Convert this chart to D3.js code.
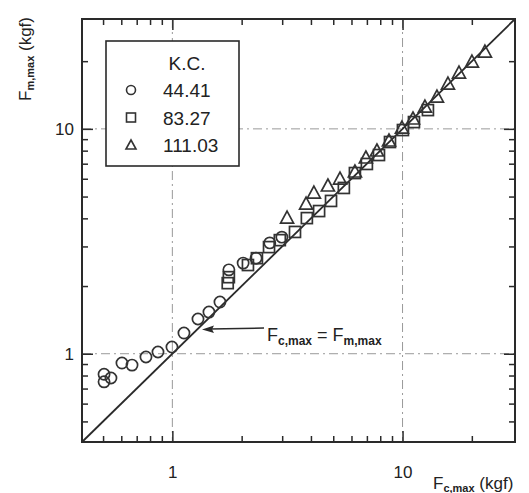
<!DOCTYPE html>
<html><head><meta charset="utf-8">
<script src="https://cdn.jsdelivr.net/npm/d3@7"></script>
<style>
html,body{margin:0;padding:0;background:#fff;}
svg text{font-family:"Liberation Sans",Arial,Helvetica,sans-serif;fill:#222;}
</style></head><body>
<svg id="chart" width="529" height="493"></svg>
<script>
// ---- data ----
const seriesNames = ["44.41", "83.27", "111.03"];
const legendTitle = "K.C.";
const circX = [0.505, 0.505, 0.541, 0.604, 0.668, 0.768, 0.866, 0.996, 1.123, 1.292, 1.442, 1.61, 1.76, 2.03, 2.31, 2.65, 2.99];
const circY = [0.81, 0.75, 0.78, 0.909, 0.89, 0.967, 1.018, 1.071, 1.236, 1.427, 1.532, 1.698, 2.36, 2.53, 2.66, 3.11, 3.30];
const sqX = [1.74, 1.76, 2.13, 2.33, 2.63, 2.93, 3.41, 3.84, 4.34, 4.89, 5.56, 6.21, 7.00, 7.90, 8.82, 10.04, 11.21, 12.89];
const sqY = [2.06, 2.19, 2.48, 2.66, 2.98, 3.20, 3.48, 4.01, 4.31, 4.78, 5.46, 6.36, 6.98, 7.65, 8.74, 9.88, 10.72, 12.12];
const triX = [3.15, 3.81, 4.12, 4.74, 5.35, 6.21, 6.93, 7.74, 8.73, 9.94, 11.10, 12.51, 14.11, 15.75, 17.59, 20.02, 22.80];
const triY = [4.01, 4.63, 5.18, 5.57, 5.98, 6.43, 7.42, 7.97, 8.83, 10.08, 11.06, 12.50, 13.85, 15.82, 17.71, 19.82, 21.96];
const majorTicks = [1, 10];
const minorTicks = [0.5, 0.6, 0.7, 0.8, 0.9, 2, 3, 4, 5, 6, 7, 8, 9, 20];
const domainMin = 0.405, domainMax = 30.8;
const gridValues = [1, 10];

// ---- layout ----
const svg = d3.select("#chart");
const L = 82, R = 515, T = 19, B = 442;
const x = d3.scaleLog().domain([domainMin, domainMax]).range([L, R]);
const y = d3.scaleLog().domain([domainMin, domainMax]).range([B, T]);
const ink = "#2a2a2a";

// grid (dash-dot)
const grid = svg.append("g").attr("stroke", "#999").attr("stroke-width", 1)
  .attr("stroke-dasharray", "9,4,2,4").attr("fill", "none");
gridValues.forEach(v => {
  grid.append("line").attr("x1", x(v)).attr("x2", x(v)).attr("y1", T).attr("y2", B);
  grid.append("line").attr("x1", L).attr("x2", R).attr("y1", y(v)).attr("y2", y(v));
});

// axes with inward ticks
function styleAxis(g) {
  g.select(".domain").remove();
  g.selectAll(".tick line").attr("stroke", ink).attr("stroke-width", 1.5);
  g.selectAll(".tick text").attr("fill", "#222").style("font-size", "17px")
    .style("font-family", '"Liberation Sans",Arial,Helvetica,sans-serif');
}
const fmt = d => d3.format("")(d);
svg.append("g").attr("transform", `translate(0,${B})`)
  .call(d3.axisBottom(x).tickValues(majorTicks).tickFormat(fmt).tickSizeInner(-11).tickPadding(24))
  .call(styleAxis);
svg.append("g").attr("transform", `translate(0,${B})`)
  .call(d3.axisBottom(x).tickValues(minorTicks).tickFormat("").tickSizeInner(-6))
  .call(styleAxis);
svg.append("g").attr("transform", `translate(0,${T})`)
  .call(d3.axisTop(x).tickValues(majorTicks).tickFormat("").tickSizeInner(-11))
  .call(styleAxis);
svg.append("g").attr("transform", `translate(0,${T})`)
  .call(d3.axisTop(x).tickValues(minorTicks).tickFormat("").tickSizeInner(-6))
  .call(styleAxis);
svg.append("g").attr("transform", `translate(${L},0)`)
  .call(d3.axisLeft(y).tickValues(majorTicks).tickFormat(fmt).tickSizeInner(-11).tickPadding(8))
  .call(styleAxis);
svg.append("g").attr("transform", `translate(${L},0)`)
  .call(d3.axisLeft(y).tickValues(minorTicks).tickFormat("").tickSizeInner(-6))
  .call(styleAxis);
svg.append("g").attr("transform", `translate(${R},0)`)
  .call(d3.axisRight(y).tickValues(majorTicks).tickFormat("").tickSizeInner(-11))
  .call(styleAxis);
svg.append("g").attr("transform", `translate(${R},0)`)
  .call(d3.axisRight(y).tickValues(minorTicks).tickFormat("").tickSizeInner(-6))
  .call(styleAxis);

// frame
svg.append("rect").attr("x", L).attr("y", T).attr("width", R - L).attr("height", B - T)
  .attr("fill", "none").attr("stroke", ink).attr("stroke-width", 2);

// diagonal y = x
svg.append("line").attr("x1", x(domainMin)).attr("y1", y(domainMin))
  .attr("x2", x(domainMax)).attr("y2", y(domainMax))
  .attr("stroke", ink).attr("stroke-width", 1.8);

// markers
const sym = {
  circle: (g, cx, cy) => g.append("circle").attr("cx", cx).attr("cy", cy).attr("r", 5.6),
  square: (g, cx, cy) => g.append("rect").attr("x", cx - 5.5).attr("y", cy - 5.5).attr("width", 11).attr("height", 11),
  triangle: (g, cx, cy) => g.append("path").attr("d", `M${cx},${cy - 7}L${cx + 6.5},${cy + 5}L${cx - 6.5},${cy + 5}Z`)
};
const marks = svg.append("g").attr("fill", "none").attr("stroke", "#333").attr("stroke-width", 1.7);
circX.forEach((v, i) => sym.circle(marks, x(v), y(circY[i])));
sqX.forEach((v, i) => sym.square(marks, x(v), y(sqY[i])));
triX.forEach((v, i) => sym.triangle(marks, x(v), y(triY[i])));

// legend
const lg = svg.append("g");
lg.append("rect").attr("x", 106).attr("y", 41).attr("width", 133).attr("height", 125)
  .attr("fill", "#fff").attr("stroke", ink).attr("stroke-width", 1.6);
lg.append("text").attr("x", 187).attr("y", 70).attr("text-anchor", "middle")
  .style("font-size", "19px").text(legendTitle);
const lgMarks = lg.append("g").attr("fill", "none").attr("stroke", "#333").attr("stroke-width", 1.6);
const kinds = ["circle", "square", "triangle"];
seriesNames.forEach((s, i) => {
  const cy = 90 + i * 27.5;
  if (kinds[i] === "circle") lgMarks.append("circle").attr("cx", 131).attr("cy", cy).attr("r", 4.5);
  if (kinds[i] === "square") lgMarks.append("rect").attr("x", 126.5).attr("y", cy - 4.5).attr("width", 9).attr("height", 9);
  if (kinds[i] === "triangle") lgMarks.append("path").attr("d", `M131,${cy - 5}L136,${cy + 4}L126,${cy + 4}Z`);
  lg.append("text").attr("x", 163).attr("y", cy + 7).style("font-size", "19px").text(s);
});

// annotation with arrow
svg.append("line").attr("x1", 264).attr("y1", 328).attr("x2", 210).attr("y2", 329)
  .attr("stroke", ink).attr("stroke-width", 1.5);
svg.append("path").attr("d", "M202,329.5L214,325.5L212,329.3L214,333Z").attr("fill", ink);
const ann = svg.append("text").attr("x", 267).attr("y", 341).style("font-size", "18px");
ann.append("tspan").text("F");
ann.append("tspan").attr("dy", 4).style("font-size", "12px").style("font-weight", "bold").text("c,max");
ann.append("tspan").attr("dy", -4).text(" = F");
ann.append("tspan").attr("dy", 4).style("font-size", "12px").style("font-weight", "bold").text("m,max");

// axis titles
const xt = svg.append("text").attr("x", 433).attr("y", 489).style("font-size", "17px");
xt.append("tspan").text("F");
xt.append("tspan").attr("dy", 3).style("font-size", "11px").style("font-weight", "bold").text("c,max");
xt.append("tspan").attr("dy", -3).text(" (kgf)");
const yt = svg.append("text").attr("transform", "translate(31,101) rotate(-90)").style("font-size", "17px");
yt.append("tspan").text("F");
yt.append("tspan").attr("dy", 3).style("font-size", "11px").style("font-weight", "bold").text("m,max");
yt.append("tspan").attr("dy", -3).text(" (kgf)");
</script>
</body></html>
